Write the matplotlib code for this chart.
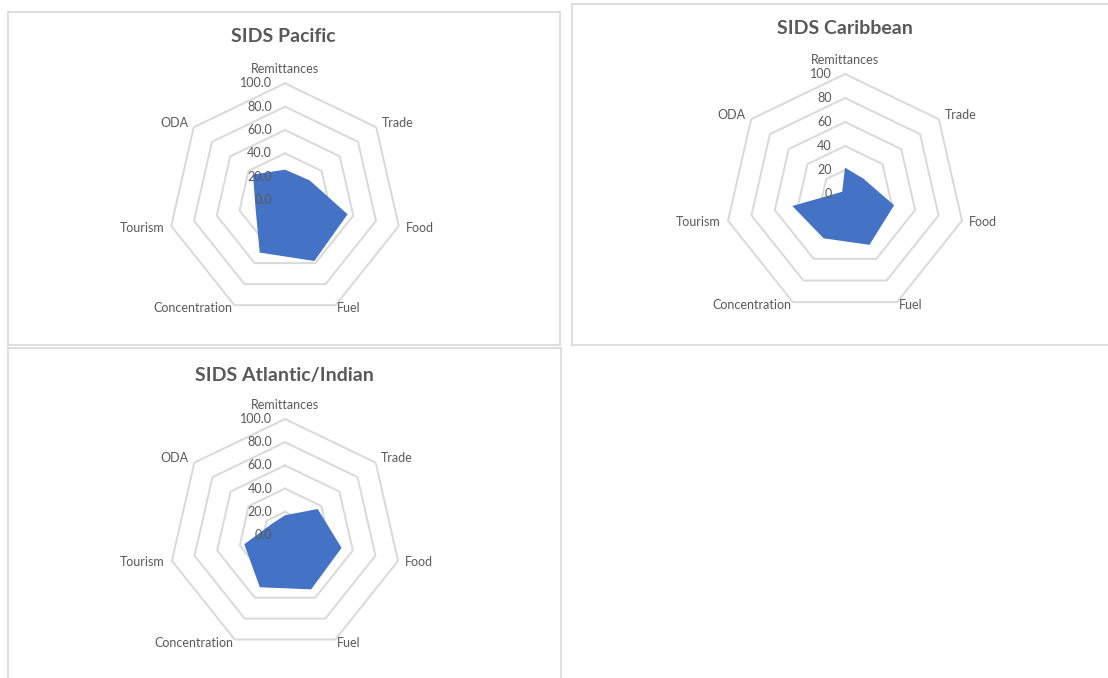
import numpy as np
import matplotlib.pyplot as plt

plt.rcParams['font.family'] = ['Lato', 'DejaVu Sans']

# --- Data ---
categories = ["Remittances", "Trade", "Food", "Fuel", "Concentration", "Tourism", "ODA"]
pacific = [26, 27, 55, 58, 50, 26, 35]
caribbean = [22, 20, 42, 47, 41, 45, 3]
atlantic_indian = [17, 36, 50, 52, 50, 36, 15]
ring_levels = [0, 20, 40, 60, 80, 100]

titles = ["SIDS Pacific", "SIDS Caribbean", "SIDS Atlantic/Indian"]
series = [pacific, caribbean, atlantic_indian]
tick_fmt = ["{:.1f}", "{:d}", "{:.1f}"]

# --- Layout in pixels: box (left, top, right, bottom), centre, radius, title pos ---
W, H = 1108, 678
boxes = [(7.5, 11.5, 559.5, 345), (572, 3.5, 1118, 344.5), (7.5, 348, 561, 690)]
centres = [(285, 200), (845, 194), (285, 535)]
radii = [116.7, 120, 116]
title_pos = [(283, 37), (845, 29), (284, 375)]

GRID = "#d9d9d9"
TXT = "#595959"
FILL = "#4472C4"

fig = plt.figure(figsize=(W / 100, H / 100), dpi=100)

n = len(categories)
ang = np.arange(n) * 2 * np.pi / n
ux = np.sin(ang)
uy = np.cos(ang)

for k in range(3):
    l, t, r, b = boxes[k]
    cx, cy = centres[k]
    R = radii[k]
    ax = fig.add_axes([l / W, 1 - b / H, (r - l) / W, (b - t) / H])
    ax.set_xlim((l - cx) / R, (r - cx) / R)
    ax.set_ylim((cy - b) / R, (cy - t) / R)
    ax.set_xticks([])
    ax.set_yticks([])
    for s in ax.spines.values():
        s.set_color(GRID)
        s.set_linewidth(1.2)

    # grid rings (no spokes in the original)
    for lv in ring_levels[1:]:
        f = lv / 100
        ax.plot(np.append(ux, ux[0]) * f, np.append(uy, uy[0]) * f,
                color=GRID, lw=1.4, zorder=1)

    # data
    v = np.array(series[k]) / 100
    ax.fill(v * ux, v * uy, color=FILL, zorder=2, lw=0)

    # value labels
    for lv in ring_levels:
        ax.text(-0.11, lv / 100, tick_fmt[k].format(lv), ha="right", va="center",
                fontsize=9, color=TXT, zorder=3)

    # category labels
    for i, c in enumerate(categories):
        if i == 0:
            ax.text(0, 1.07, c, ha="center", va="bottom", fontsize=9, color=TXT)
            continue
        ha = "left" if ux[i] > 0 else "right"
        rr = 1.06 if uy[i] > -0.5 else 1.03
        ax.text(ux[i] * rr, uy[i] * rr, c, ha=ha, va="center", fontsize=9, color=TXT)

    fig.text(title_pos[k][0] / W, 1 - title_pos[k][1] / H, titles[k], ha="center",
             va="center", fontsize=14, fontweight="bold", color=TXT)

fig.savefig("out.png", dpi=100)
